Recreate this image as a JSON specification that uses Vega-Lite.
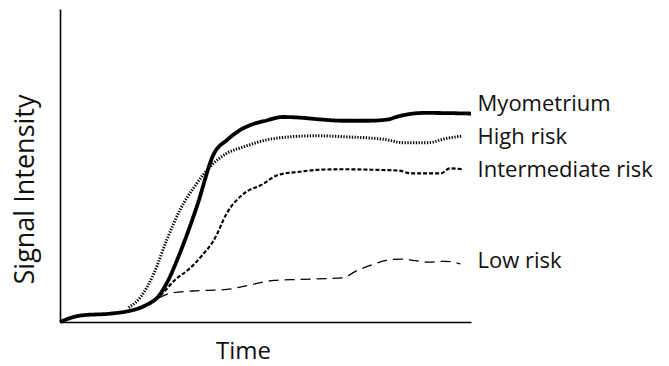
{
  "$schema": "https://vega.github.io/schema/vega-lite/v6.json",
  "autosize": {"type": "none"},
  "width": 411,
  "height": 313,
  "padding": {"left": 60, "top": 9, "right": 198, "bottom": 44},
  "background": "white",
  "config": {"view": {"stroke": null}},
  "datasets": {
    "curves": [
      {"series": "Myometrium", "t": 0, "s": 0},
      {"series": "Myometrium", "t": 2.1, "s": 1.1},
      {"series": "Myometrium", "t": 5.2, "s": 2.1},
      {"series": "Myometrium", "t": 12.5, "s": 2.7},
      {"series": "Myometrium", "t": 16.7, "s": 3.5},
      {"series": "Myometrium", "t": 20.8, "s": 5.3},
      {"series": "Myometrium", "t": 24, "s": 8.3},
      {"series": "Myometrium", "t": 26, "s": 12.5},
      {"series": "Myometrium", "t": 29.2, "s": 22.1},
      {"series": "Myometrium", "t": 33.3, "s": 36.9},
      {"series": "Myometrium", "t": 37.5, "s": 53.9},
      {"series": "Myometrium", "t": 40.6, "s": 58.1},
      {"series": "Myometrium", "t": 43.8, "s": 61.3},
      {"series": "Myometrium", "t": 46.9, "s": 63.2},
      {"series": "Myometrium", "t": 50, "s": 64.3},
      {"series": "Myometrium", "t": 54.2, "s": 65.5},
      {"series": "Myometrium", "t": 58.3, "s": 65.3},
      {"series": "Myometrium", "t": 63.5, "s": 64.7},
      {"series": "Myometrium", "t": 68.8, "s": 64.3},
      {"series": "Myometrium", "t": 75, "s": 64.3},
      {"series": "Myometrium", "t": 79.7, "s": 64.7},
      {"series": "Myometrium", "t": 82.3, "s": 65.7},
      {"series": "Myometrium", "t": 88.5, "s": 66.8},
      {"series": "Myometrium", "t": 100, "s": 66.6},

      {"series": "High risk", "t": 16.7, "s": 4.6},
      {"series": "High risk", "t": 19.8, "s": 8.3},
      {"series": "High risk", "t": 22.9, "s": 15.7},
      {"series": "High risk", "t": 26, "s": 26.3},
      {"series": "High risk", "t": 29.2, "s": 35.8},
      {"series": "High risk", "t": 33.3, "s": 44.3},
      {"series": "High risk", "t": 36.5, "s": 49.6},
      {"series": "High risk", "t": 40.6, "s": 53.9},
      {"series": "High risk", "t": 44.8, "s": 56},
      {"series": "High risk", "t": 50, "s": 58.1},
      {"series": "High risk", "t": 56.3, "s": 59.2},
      {"series": "High risk", "t": 62.5, "s": 59.5},
      {"series": "High risk", "t": 68.8, "s": 59.2},
      {"series": "High risk", "t": 79.2, "s": 58.3},
      {"series": "High risk", "t": 83.3, "s": 57.3},
      {"series": "High risk", "t": 89.6, "s": 57.3},
      {"series": "High risk", "t": 93.8, "s": 58.6},
      {"series": "High risk", "t": 97.9, "s": 59.4},

      {"series": "Intermediate risk", "t": 20.8, "s": 5.3},
      {"series": "Intermediate risk", "t": 25, "s": 9.3},
      {"series": "Intermediate risk", "t": 28.1, "s": 13.6},
      {"series": "Intermediate risk", "t": 31.3, "s": 16.8},
      {"series": "Intermediate risk", "t": 34.4, "s": 21},
      {"series": "Intermediate risk", "t": 37.5, "s": 26.3},
      {"series": "Intermediate risk", "t": 40.6, "s": 34.8},
      {"series": "Intermediate risk", "t": 44.8, "s": 41.1},
      {"series": "Intermediate risk", "t": 49, "s": 43.8},
      {"series": "Intermediate risk", "t": 53.1, "s": 47},
      {"series": "Intermediate risk", "t": 58.3, "s": 48},
      {"series": "Intermediate risk", "t": 62.5, "s": 48.6},
      {"series": "Intermediate risk", "t": 68.8, "s": 48.8},
      {"series": "Intermediate risk", "t": 77.1, "s": 48.6},
      {"series": "Intermediate risk", "t": 82.3, "s": 48.4},
      {"series": "Intermediate risk", "t": 85.4, "s": 47.5},
      {"series": "Intermediate risk", "t": 92.7, "s": 47.5},
      {"series": "Intermediate risk", "t": 94.8, "s": 49.1},
      {"series": "Intermediate risk", "t": 97.9, "s": 48.8},

      {"series": "Low risk", "t": 24, "s": 7.7},
      {"series": "Low risk", "t": 27.1, "s": 9.3},
      {"series": "Low risk", "t": 32.3, "s": 9.9},
      {"series": "Low risk", "t": 40.6, "s": 10.4},
      {"series": "Low risk", "t": 45.8, "s": 11.7},
      {"series": "Low risk", "t": 52.1, "s": 13.3},
      {"series": "Low risk", "t": 58.3, "s": 13.6},
      {"series": "Low risk", "t": 68.8, "s": 14.1},
      {"series": "Low risk", "t": 71.9, "s": 16.2},
      {"series": "Low risk", "t": 76, "s": 18.3},
      {"series": "Low risk", "t": 80.2, "s": 19.9},
      {"series": "Low risk", "t": 83.3, "s": 20.1},
      {"series": "Low risk", "t": 86.5, "s": 19.6},
      {"series": "Low risk", "t": 89.6, "s": 19.1},
      {"series": "Low risk", "t": 93.8, "s": 19.4},
      {"series": "Low risk", "t": 97.4, "s": 18.6}
    ],
    "labels": [
      {"series": "Myometrium", "t": 101.6, "s": 69.6},
      {"series": "High risk", "t": 101.6, "s": 59.0},
      {"series": "Intermediate risk", "t": 101.6, "s": 48.6},
      {"series": "Low risk", "t": 101.6, "s": 19.4}
    ]
  },
  "layer": [
    {
      "data": {"name": "curves"},
      "mark": {"type": "line", "interpolate": "monotone", "color": "black", "strokeCap": "butt"},
      "encoding": {
        "x": {
          "field": "t", "type": "quantitative",
          "scale": {"domain": [0, 100], "nice": false, "zero": false},
          "axis": {
            "title": "Time", "domainColor": "black", "domainWidth": 1.6,
            "ticks": false, "labels": false, "grid": false,
            "titleFont": "Open Sans", "titleFontSize": 24, "titleFontWeight": "normal",
            "titleColor": "#111", "titleX": 183, "titleY": 29,
            "titleBaseline": "middle", "titleAnchor": "start", "titleAlign": "center"
          }
        },
        "y": {
          "field": "s", "type": "quantitative",
          "scale": {"domain": [0, 100], "nice": false, "zero": false},
          "axis": {
            "title": "Signal Intensity", "domainColor": "black", "domainWidth": 1.6,
            "ticks": false, "labels": false, "grid": false,
            "titleFont": "Open Sans", "titleFontSize": 27, "titleFontWeight": "normal",
            "titleColor": "#111", "titleX": -35, "titleY": 180, "titleAngle": -90,
            "titleBaseline": "middle", "titleAlign": "center"
          }
        },
        "detail": {"field": "series"},
        "strokeDash": {
          "field": "series", "type": "nominal", "legend": null,
          "scale": {
            "domain": ["Myometrium", "High risk", "Intermediate risk", "Low risk"],
            "range": [[1, 0], [1.3, 1.5], [4, 2], [10, 6]]
          }
        },
        "strokeWidth": {
          "field": "series", "type": "nominal", "legend": null,
          "scale": {
            "domain": ["Myometrium", "High risk", "Intermediate risk", "Low risk"],
            "range": [3.8, 1.3, 1.5, 1.9]
          }
        }
      }
    },
    {
      "data": {"name": "labels"},
      "mark": {"type": "text", "align": "left", "baseline": "middle", "font": "Open Sans", "fontSize": 22, "color": "#111"},
      "encoding": {
        "x": {"field": "t", "type": "quantitative"},
        "y": {"field": "s", "type": "quantitative"},
        "text": {"field": "series"}
      }
    }
  ]
}
